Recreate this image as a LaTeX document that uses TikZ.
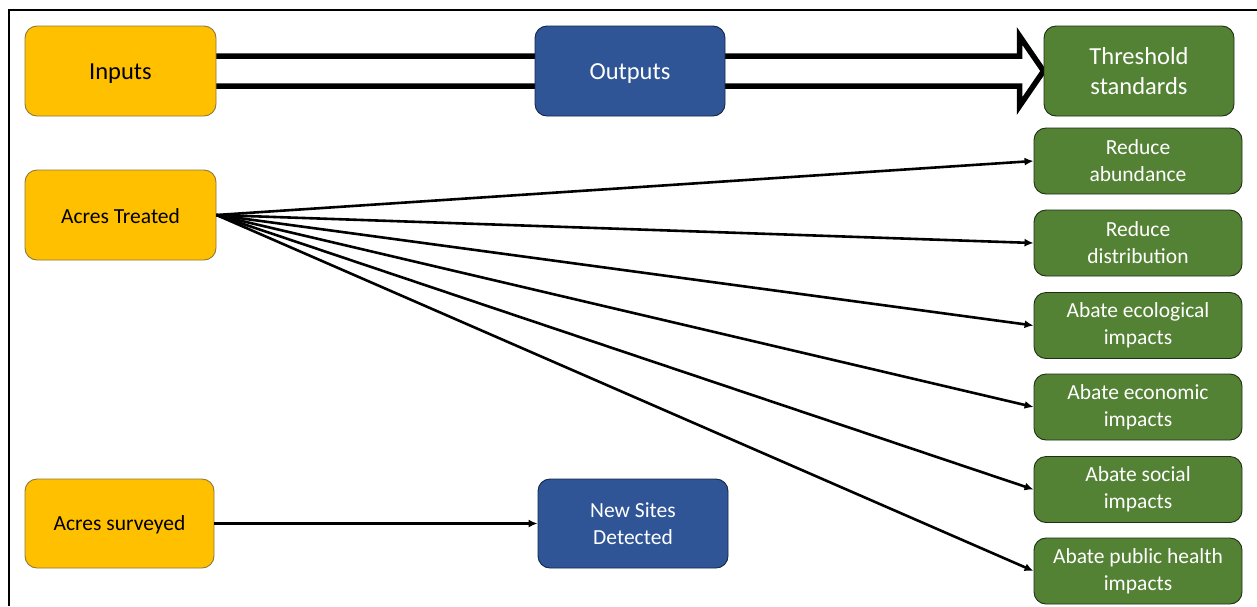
\documentclass[tikz,border=0pt]{standalone}
\usepackage{fontspec}
\setmainfont{Carlito}
\usetikzlibrary{arrows.meta,calc,backgrounds}
\definecolor{cyellow}{HTML}{FFC000}
\definecolor{cblue}{HTML}{2F5597}
\definecolor{cgreen}{HTML}{548235}
\newcommand{\lowertxt}[2]{\raisebox{-#1}[\height][\depth]{#2}}
\tikzset{
  box/.style={rounded corners=12pt, line width=0.9pt, align=center, inner sep=0pt},
  ybox/.style={box, fill=cyellow, draw=cyellow!40!black!75, text=black},
  bbox/.style={box, fill=cblue, draw=cblue!45!black, text=white},
  gbox/.style={box, fill=cgreen, draw=cgreen!35!black, text=white},
  bigtxt/.style={font=\fontsize{24.5}{30}\selectfont},
  smalltxt/.style={font=\fontsize{21.5}{27}\selectfont},
  bigsize/.style={minimum width=191pt, minimum height=90pt},
  gsize/.style={minimum width=208pt, minimum height=66pt},
  conn/.style={line width=2.6pt, -{Latex[length=9pt,width=8pt]}},
}
\begin{document}
\begin{tikzpicture}[x=1pt,y=-1pt]
\useasboundingbox (0,0) rectangle (1257,606);
\draw[line width=2pt] (9,606) -- (9,10) -- (1257,10);

\node[ybox,bigsize,bigtxt] (in) at (120.5,71) {\lowertxt{3pt}{Inputs}};
\node[bbox,bigsize,bigtxt,minimum width=190pt] (out) at (630,71) {\lowertxt{3pt}{Outputs}};
\node[gbox,bigsize,bigtxt,minimum width=190pt] (thr) at (1139,71) {Threshold\\standards};

\node[ybox,bigsize,smalltxt] (at) at (120.5,215) {\lowertxt{1.5pt}{Acres Treated}};
\node[ybox,bigsize,smalltxt,minimum width=189pt,minimum height=89pt] (as) at (119.5,523.5) {\lowertxt{1.5pt}{Acres surveyed}};
\node[bbox,bigsize,smalltxt,minimum width=190pt,minimum height=89pt] (nsd) at (633,523.5) {New Sites\\Detected};

\node[gbox,gsize,smalltxt] (g1) at (1138,161) {Reduce\\abundance};
\node[gbox,gsize,smalltxt] (g2) at (1138,243) {Reduce\\distribution};
\node[gbox,gsize,smalltxt] (g3) at (1138,325.5) {Abate ecological\\impacts};
\node[gbox,gsize,smalltxt] (g4) at (1138,407) {Abate economic\\impacts};
\node[gbox,gsize,smalltxt] (g5) at (1138,489.5) {Abate social\\impacts};
\node[gbox,gsize,smalltxt] (g6) at (1138,571) {Abate public health\\impacts};

\begin{scope}[on background layer]
  \coordinate (hb) at ($(thr.west)+(-24,0)$);
  \draw[line width=5.5pt, fill=white, line join=miter]
    ($(in.east)+(-8,-15)$) -- ($(hb)+(0,-15)$) -- ($(hb)+(0,-35)$) -- (thr.west)
    -- ($(hb)+(0,35)$) -- ($(hb)+(0,15)$) -- ($(in.east)+(-8,15)$) -- cycle;
\end{scope}

\foreach \g in {g1,g2,g3,g4,g5,g6}{
  \draw[conn] (at.east) -- (\g.west);
}
\draw[conn] (as.east) -- (nsd.west);
\end{tikzpicture}
\end{document}
